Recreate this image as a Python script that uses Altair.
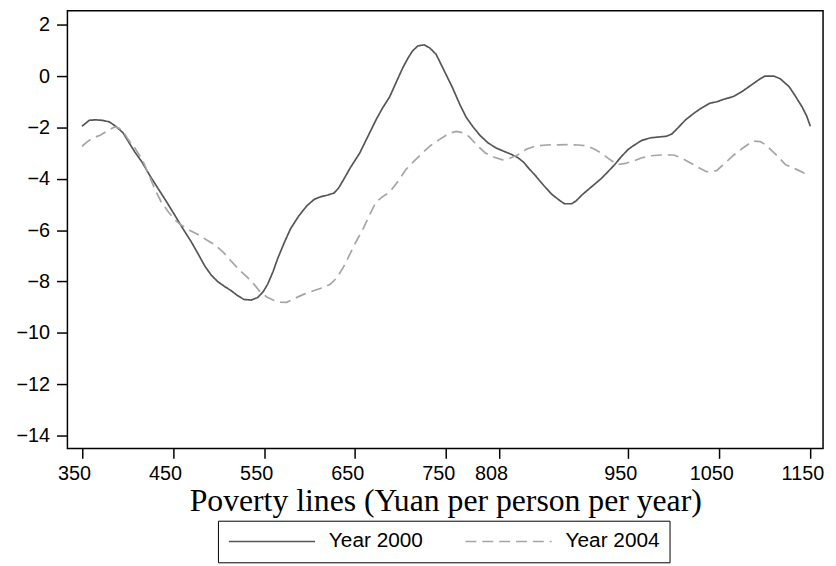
import altair as alt
import pandas as pd

# ---- data ----
x2000 = [350, 358, 365, 372, 380, 387, 395, 401, 408, 416, 425, 434, 443, 452, 461, 470, 478, 485, 492, 499,
         507, 514, 521, 528, 536, 543, 549, 554, 560, 565, 572, 579, 588, 597, 605, 612, 620, 627, 632, 637,
         645, 655, 664, 673, 680, 688, 695, 702, 708, 713, 719, 726, 732, 739, 748, 757, 765, 772, 779, 787,
         796, 805, 815, 822, 829, 835, 841, 848, 857, 866, 875, 880, 888, 893, 900, 910, 920, 927, 935, 942,
         950, 956, 965, 975, 992, 998, 1005, 1013, 1022, 1030, 1040, 1047, 1055, 1065, 1075, 1085, 1095, 1100,
         1110, 1117, 1127, 1134, 1141, 1146, 1150]
y2000 = [-1.95, -1.72, -1.70, -1.72, -1.78, -1.95, -2.2, -2.55, -2.95, -3.35, -3.9, -4.4, -4.9, -5.42, -5.95,
         -6.45, -6.95, -7.4, -7.75, -8.0, -8.2, -8.36, -8.55, -8.7, -8.72, -8.62, -8.4, -8.1, -7.6, -7.1, -6.5,
         -5.95, -5.45, -5.05, -4.8, -4.7, -4.63, -4.55, -4.35, -4.05, -3.55, -3.0, -2.35, -1.7, -1.25, -0.8,
         -0.25, 0.3, 0.7, 0.98, 1.18, 1.22, 1.1, 0.85, 0.2, -0.45, -1.1, -1.6, -1.95, -2.3, -2.6, -2.8, -2.95,
         -3.05, -3.18, -3.35, -3.6, -3.87, -4.25, -4.6, -4.85, -4.97, -4.97, -4.85, -4.6, -4.3, -4.0, -3.75,
         -3.45, -3.15, -2.85, -2.7, -2.5, -2.4, -2.34, -2.25, -2.0, -1.7, -1.45, -1.25, -1.05, -1.0, -0.9, -0.8,
         -0.6, -0.35, -0.1, 0.0, 0.0, -0.1, -0.42, -0.8, -1.2, -1.55, -1.95]

x2004 = [350, 356, 362, 370, 380, 386, 391, 396, 401, 408, 416, 423, 430, 437, 445, 452, 459, 468, 478, 487,
         496, 505, 514, 523, 532, 540, 546, 553, 561, 568, 575, 584, 594, 605, 615, 623, 630, 637, 644, 651,
         659, 666, 673, 680, 688, 697, 706, 715, 724, 733, 742, 750, 756, 761, 768, 775, 784, 793, 802, 812,
         820, 829, 838, 848, 860, 883, 895, 905, 913, 920, 928, 938, 947, 956, 965, 975, 986, 1000, 1009, 1018,
         1027, 1036, 1047, 1056, 1065, 1076, 1087, 1095, 1101, 1112, 1123, 1136, 1149]
y2004 = [-2.73, -2.55, -2.41, -2.3, -2.09, -1.98, -2.03, -2.2, -2.48, -2.8, -3.24, -3.8, -4.4, -4.9, -5.29,
         -5.6, -5.8, -6.0, -6.18, -6.38, -6.57, -6.85, -7.21, -7.55, -7.85, -8.15, -8.42, -8.6, -8.74, -8.8,
         -8.81, -8.65, -8.49, -8.35, -8.23, -8.1, -7.85, -7.45, -6.95, -6.45, -5.93, -5.4, -4.9, -4.7, -4.52,
         -4.1, -3.63, -3.3, -2.99, -2.7, -2.48, -2.3, -2.2, -2.15, -2.2, -2.35, -2.7, -2.99, -3.15, -3.26, -3.2,
         -3.06, -2.85, -2.72, -2.68, -2.67, -2.68, -2.72, -2.85, -2.99, -3.2, -3.45, -3.4, -3.3, -3.18, -3.1,
         -3.07, -3.07, -3.2, -3.37, -3.55, -3.72, -3.68, -3.4, -3.1, -2.8, -2.53, -2.55, -2.67, -3.05, -3.45,
         -3.65, -3.87]

series_names = ["Year 2000", "Year 2004"]
x_ticks = [350, 450, 550, 650, 750, 808, 950, 1050, 1150]
y_ticks = [-14, -12, -10, -8, -6, -4, -2, 0, 2]

SANS = "Liberation Sans, Arial, sans-serif"

df = pd.concat([
    pd.DataFrame({"x": x2000, "y": y2000, "series": series_names[0]}),
    pd.DataFrame({"x": x2004, "y": y2004, "series": series_names[1]}),
])

legend_kw = dict(title=None, orient="none", legendX=152, legendY=515,
                 direction="horizontal", columns=2, columnPadding=42,
                 strokeColor="black", padding=10, clipHeight=22,
                 symbolType="stroke", symbolSize=7569, symbolStrokeWidth=1.6,
                 labelFont=SANS, labelFontSize=21, labelColor="black", labelOffset=13)

chart = alt.Chart(df).mark_line(strokeWidth=1.7).encode(
    x=alt.X("x:Q",
            scale=alt.Scale(domain=[334, 1164], nice=False, zero=False),
            axis=alt.Axis(values=x_ticks, format="d", title="Poverty lines (Yuan per person per year)",
                          grid=False, domain=False, tickSize=10, tickColor="black", tickWidth=1.5,
                          labelFont=SANS, labelFontSize=20, labelColor="black",
                          labelPadding=5, labelFlush=False, labelOffset=-8,
                          titleFont="Liberation Serif", titleFontSize=32, titleFontWeight="normal",
                          titleColor="black", titlePadding=3)),
    y=alt.Y("y:Q",
            scale=alt.Scale(domain=[-14.5, 2.55], nice=False, zero=False),
            axis=alt.Axis(values=y_ticks, format="d", title=None, grid=False, domain=False, tickSize=11,
                          tickColor="black", tickWidth=1.5,
                          labelFont=SANS, labelFontSize=20, labelColor="black",
                          labelPadding=7)),
    color=alt.Color("series:N",
                    scale=alt.Scale(domain=series_names, range=["#555555", "#a5a5a5"]),
                    legend=alt.Legend(**legend_kw)),
    strokeDash=alt.StrokeDash("series:N",
                              scale=alt.Scale(domain=series_names, range=[[1, 0], [11, 6]]),
                              legend=alt.Legend(**legend_kw)),
).properties(
    width=763, height=442,
    autosize=alt.AutoSizeParams(type="none"),
    padding={"left": 60, "top": 0, "right": 5, "bottom": 116},
    background="white",
).configure_view(stroke="black", strokeWidth=1.5)

chart.save("out.html", embed_options={"renderer": "svg", "actions": False})
